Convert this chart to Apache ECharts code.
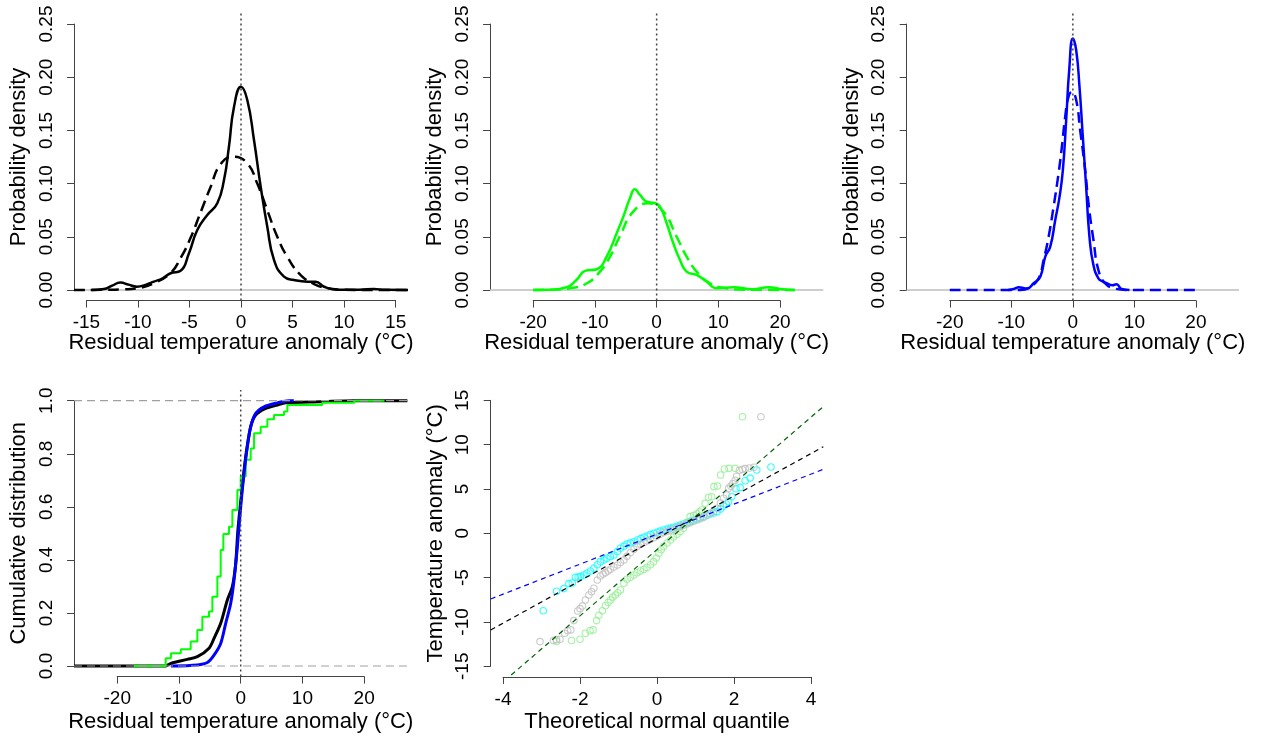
<!DOCTYPE html>
<html><head><meta charset="utf-8">
<script src="https://cdn.jsdelivr.net/npm/echarts@6/dist/echarts.min.js"></script>
<style>html,body{margin:0;padding:0;background:#fff}#c{width:1262px;height:740px}</style>
</head><body><div id="c"></div>
<script>
// ---------------- data ----------------
const xTitle = 'Residual temperature anomaly (°C)';
const qqXTitle = 'Theoretical normal quantile';
const densYTitle = 'Probability density';
const cdfYTitle = 'Cumulative distribution';
const qqYTitle = 'Temperature anomaly (°C)';

// tick ranges [min, max, step]
const ticksX1 = [-15, 15, 5];
const ticksX2 = [-20, 20, 10];
const ticksXq = [-4, 4, 2];
const ticksYdens = [0, 0.25, 0.05];
const ticksYcdf = [0, 1, 0.2];
const ticksYq = [-15, 15, 5];
// axis limits
const limX1 = [-15, 15];
const limX2 = [-25, 25];
const limXq = [-4, 4];
const limYdens = [0, 0.25];
const limYcdf = [0, 1];
const limYq = [-15, 15];

// panel 1 (black): kernel density (solid) and normal fit (dashed)
const blackKde = [[-14.5,0],[-13.3,0.0008],[-12.5,0.004],[-11.7,0.0069],[-10.9,0.005],[-10.1,0.0031],[-9.2,0.005],[-8.45,0.0078],[-7.6,0.011],[-6.83,0.0157],[-5.86,0.018],[-5.05,0.0345],[-4.24,0.0564],[-3.27,0.0705],[-2.3,0.0815],[-1.65,0.1034],[-1.17,0.1347],[-0.68,0.172],[0,0.191],[0.61,0.1786],[1.26,0.141],[1.91,0.097],[2.55,0.0595],[3.2,0.0282],[4.17,0.0125],[5.14,0.0094],[6.44,0.0078],[7.25,0.0078],[8.06,0.003],[9.35,0.0003],[11.5,0.0002],[12.9,0.001],[14,0.0001],[16.2,0]];
const blackNorm = [[-16.2,0],[-13,0.0002],[-11.5,0.0006],[-10.1,0.0016],[-8.45,0.0063],[-6.83,0.016],[-5.86,0.03],[-4.89,0.049],[-3.92,0.073],[-2.94,0.097],[-2.0,0.118],[-0.75,0.1253],[0.61,0.119],[1.58,0.1],[2.55,0.075],[3.52,0.05],[4.5,0.031],[5.79,0.014],[7.1,0.0056],[8.4,0.0016],[9.7,0.0003],[11,0],[16.2,0]];
// panel 2 (green)
const greenKde = [[-20,0],[-17.3,0.0002],[-14.6,0.0025],[-13.0,0.0094],[-11.6,0.0179],[-9.72,0.0195],[-8.1,0.0313],[-6.48,0.0533],[-5.4,0.0689],[-4.33,0.0862],[-3.52,0.0946],[-2.7,0.0893],[-1.62,0.083],[-0.27,0.0815],[0.54,0.0784],[1.62,0.0627],[2.7,0.0439],[3.78,0.0282],[4.86,0.0172],[6.48,0.0141],[8.1,0.0078],[9.72,0.0016],[12.4,0.0025],[15.6,0.0006],[18.1,0.0025],[20.5,0.0006],[22.4,0]];
const greenNorm = [[-20,0],[-17,0.0003],[-14.05,0.0016],[-11.3,0.0063],[-9.18,0.0172],[-7.56,0.0313],[-6.0,0.05],[-3.8,0.0736],[-1.35,0.0815],[1.08,0.0736],[3.24,0.05],[4.86,0.0313],[6.48,0.0172],[8.64,0.0063],[11.3,0.0016],[14,0.0003],[22.4,0]];
// panel 3 (blue)
const blueKde = [[-10.5,0],[-9.5,0.0012],[-8.8,0.0025],[-7.45,0.0013],[-6.37,0.0063],[-5.29,0.0125],[-4.48,0.0313],[-3.67,0.0407],[-2.86,0.0658],[-2.16,0.0877],[-1.62,0.1128],[-1.08,0.16],[-0.59,0.207],[0,0.2365],[0.54,0.2256],[1.08,0.191],[1.62,0.144],[2.16,0.097],[2.7,0.05],[3.34,0.0235],[4.15,0.011],[4.9,0.0078],[5.5,0.0063],[6.4,0.0045],[7.1,0.0053],[7.9,0.001],[9.2,0]];
const blueNorm = [[-20,0],[-8.5,0],[-6.9,0.003],[-5.56,0.011],[-4.75,0.0282],[-3.94,0.05],[-3.13,0.0783],[-2.32,0.1097],[-1.78,0.1347],[-1.24,0.163],[-0.7,0.1817],[-0.16,0.1864],[0.54,0.1786],[1.19,0.15],[2.0,0.1128],[2.54,0.0815],[3.35,0.047],[4.15,0.0188],[5.23,0.0063],[6.85,0.0013],[8.7,0],[20,0]];

// panel 4: empirical cumulative distributions
const blackEcdf = [[-27,0],[-12.15,0],[-11.3,0.01],[-8.64,0.025],[-7.02,0.035],[-5.13,0.067],[-4.32,0.104],[-3.24,0.161],[-2.16,0.249],[-1.35,0.299],[-0.81,0.387],[-0.45,0.513],[0.2,0.663],[0.81,0.789],[1.62,0.902],[2.43,0.946],[4.05,0.971],[5.94,0.984],[7.29,0.992],[12.96,0.996],[18.4,1],[27,1]];
const greenEcdf = [[-17.3,0],[-12.15,0.029],[-11.3,0.048],[-9.7,0.063],[-8.1,0.092],[-7.02,0.136],[-6.21,0.186],[-5.13,0.205],[-4.59,0.261],[-3.78,0.337],[-3.24,0.437],[-2.81,0.4975],[-1.89,0.525],[-1.35,0.588],[-0.54,0.663],[0,0.714],[0.81,0.777],[1.62,0.82],[2.16,0.877],[3.24,0.902],[4.32,0.93],[5.4,0.946],[7.02,0.959],[7.56,0.984],[13.2,0.992],[18.4,1],[23.3,1]];
const blueEcdf = [[-11.3,0],[-7.02,0.004],[-5.4,0.013],[-4.32,0.041],[-3.24,0.085],[-2.43,0.161],[-1.62,0.236],[-1.08,0.324],[-0.54,0.45],[0,0.6],[0.54,0.726],[1.08,0.827],[1.62,0.902],[2.43,0.952],[3.78,0.977],[5.94,0.992],[7.83,1],[8.6,1]];

// panel 5: normal Q-Q points [theoretical quantile, anomaly]
const qqBlack = [[-3.04,-12.22],[-2.69,-12.1],[-2.61,-12.0],[-2.52,-11.95],[-2.4,-11.28],[-2.32,-11.0],[-2.24,-10.9],[-2.16,-9.85],[-2.06,-8.76],[-2.0,-8.5],[-1.94,-8.2],[-1.86,-7.52],[-1.77,-6.96],[-1.7,-6.6],[-1.64,-6.2],[-1.55,-5.27],[-1.47,-4.81],[-1.4,-4.6],[-1.34,-4.44],[-1.27,-4.25],[-1.21,-4.06],[-1.12,-3.8],[-1.03,-3.57],[-0.95,-3.3],[-0.86,-3.0],[-0.78,-2.6],[-0.69,-2.18],[-0.6,-1.8],[-0.52,-1.5],[-0.43,-1.25],[-0.34,-1.05],[-0.26,-0.85],[-0.17,-0.68],[-0.08,-0.5],[0,-0.3],[0.08,-0.1],[0.17,0.08],[0.26,0.2],[0.35,0.33],[0.43,0.45],[0.52,0.6],[0.6,0.75],[0.69,0.9],[0.78,1.05],[0.86,1.2],[0.95,1.35],[1.04,1.5],[1.12,1.65],[1.21,1.8],[1.3,2.03],[1.38,2.26],[1.47,2.5],[1.56,2.82],[1.65,3.4],[1.73,3.95],[1.81,4.32],[1.86,5.07],[1.92,5.3],[1.97,5.6],[2.03,5.98],[2.07,6.43],[2.14,7.11],[2.22,7.2],[2.29,7.3],[2.4,7.37],[2.52,7.45],[2.70,13.15]];
const qqGreen = [[-2.61,-12.2],[-2.22,-12.1],[-2.0,-11.95],[-1.86,-11.28],[-1.74,-11.0],[-1.66,-10.9],[-1.57,-9.85],[-1.51,-9.25],[-1.42,-8.73],[-1.34,-8.17],[-1.27,-7.8],[-1.21,-7.52],[-1.15,-7.2],[-1.08,-6.96],[-1.02,-6.7],[-0.95,-6.4],[-0.86,-5.64],[-0.78,-5.19],[-0.69,-4.95],[-0.6,-4.7],[-0.52,-4.45],[-0.43,-4.25],[-0.34,-4.05],[-0.26,-3.87],[-0.17,-3.55],[-0.09,-3.2],[-0.02,-2.8],[0.05,-2.26],[0.11,-1.85],[0.17,-1.5],[0.26,-1.1],[0.35,-0.75],[0.43,-0.42],[0.52,-0.11],[0.6,0.2],[0.69,0.56],[0.78,1.2],[0.86,1.88],[0.95,2.0],[1.03,2.18],[1.1,2.4],[1.16,2.63],[1.25,3.38],[1.34,4.06],[1.42,4.13],[1.48,5.26],[1.57,5.33],[1.65,6.58],[1.75,7.25],[1.87,7.33],[2.03,7.33],[2.22,13.15]];
const qqBlue = [[-2.955,-8.73],[-2.61,-6.54],[-2.42,-6.24],[-2.29,-5.68],[-2.2,-5.6],[-2.12,-4.96],[-2.05,-4.93],[-1.99,-4.89],[-1.9,-4.7],[-1.82,-4.51],[-1.73,-4.25],[-1.64,-3.95],[-1.55,-3.55],[-1.47,-3.2],[-1.38,-3.0],[-1.3,-2.82],[-1.21,-2.62],[-1.12,-2.44],[-1.03,-2.05],[-0.95,-1.69],[-0.86,-1.45],[-0.78,-1.21],[-0.69,-1.08],[-0.6,-0.95],[-0.5,-0.75],[-0.42,-0.6],[-0.34,-0.45],[-0.25,-0.3],[-0.17,-0.15],[-0.08,0],[0,0.12],[0.08,0.25],[0.17,0.37],[0.26,0.47],[0.35,0.58],[0.43,0.68],[0.52,0.8],[0.6,0.92],[0.69,1.05],[0.78,1.2],[0.86,1.35],[0.95,1.5],[1.04,1.62],[1.12,1.75],[1.21,1.88],[1.3,2.03],[1.38,2.18],[1.47,2.3],[1.56,2.44],[1.65,2.75],[1.73,3.08],[1.8,3.3],[1.86,3.57],[1.94,4.13],[2.05,5.03],[2.16,5.18],[2.29,5.93],[2.42,6.23],[2.59,7.14],[2.96,7.48]];
// Q-Q reference lines [intercept, slope]
const qqLineBlack = [-0.57, 2.392];
const qqLineBlue = [-0.095, 1.693];
const qqLineGreen = [-1.84, 3.735];

// ---------------- layout & styling ----------------
const FONT = '"Liberation Sans", Arial, Helvetica, sans-serif';
const AXC = '#444';
const TICK_FS = 19, NAME_FS = 22;

const panels = [
  {box:[74,13.4,334,287.2], xlim:limX1, xt:ticksX1, ylim:limYdens, yt:ticksYdens, yd:2, xn:xTitle, yn:densYTitle, xgap:31},
  {box:[490,13.4,333.3,287.2], xlim:limX2, xt:ticksX2, ylim:limYdens, yt:ticksYdens, yd:2, xn:xTitle, yn:densYTitle, xgap:31},
  {box:[906.7,13.4,332.3,287.2], xlim:limX2, xt:ticksX2, ylim:limYdens, yt:ticksYdens, yd:2, xn:xTitle, yn:densYTitle, xgap:31},
  {box:[74,390.1,333.4,286.5], xlim:limX2, xt:ticksX2, ylim:limYcdf, yt:ticksYcdf, yd:1, xn:xTitle, yn:cdfYTitle, xgap:34},
  {box:[490.7,389.7,332.6,287.2], xlim:limXq, xt:ticksXq, ylim:limYq, yt:ticksYq, yd:0, xn:qqXTitle, yn:qqYTitle, xgap:34}
];

const grid = [], xAxis = [], yAxis = [], series = [];
const regions = [];
panels.forEach((p, i) => {
  const [l, t, w, h] = p.box;
  const xs = p.xlim[1] - p.xlim[0], ys = p.ylim[1] - p.ylim[0];
  const xr = [p.xlim[0] - 0.04 * xs, p.xlim[1] + 0.04 * xs];
  const yr = [p.ylim[0] - 0.04 * ys, p.ylim[1] + 0.04 * ys];
  regions.push({xr, yr});
  const px = v => l + (v - xr[0]) / (xr[1] - xr[0]) * w;
  const py = v => t + (yr[1] - v) / (yr[1] - yr[0]) * h;
  grid.push({left:l, top:t, width:w, height:h, outerBoundsMode:'none', containLabel:false});
  const al = px(p.xt[0]), ar = px(p.xt[1]), at = py(p.yt[1]), ab = py(p.yt[0]);
  grid.push({left:al, top:at, width:ar - al, height:ab - at, outerBoundsMode:'none', containLabel:false});
  xAxis.push({type:'value', gridIndex:2*i, min:xr[0], max:xr[1], show:false});
  yAxis.push({type:'value', gridIndex:2*i, min:yr[0], max:yr[1], show:false});
  xAxis.push({
    type:'value', gridIndex:2*i+1, min:p.xt[0], max:p.xt[1], interval:p.xt[2],
    position:'bottom', offset:(t + h) - ab,
    axisLine:{show:true, onZero:false, lineStyle:{color:AXC, width:1}},
    axisTick:{show:true, inside:false, length:7, lineStyle:{color:AXC, width:1}},
    axisLabel:{show:true, margin:13, fontSize:TICK_FS, color:'#000', fontFamily:FONT, showMinLabel:true, showMaxLabel:true,
      formatter: v => String(Math.round(v))},
    splitLine:{show:false},
    name:p.xn, nameLocation:'middle', nameGap:p.xgap, nameMoveOverlap:false,
    nameTextStyle:{fontSize:NAME_FS, color:'#000', fontFamily:FONT}
  });
  yAxis.push({
    type:'value', gridIndex:2*i+1, min:p.yt[0], max:p.yt[1], interval:p.yt[2],
    position:'left', offset:al - l,
    axisLine:{show:true, onZero:false, lineStyle:{color:AXC, width:1}},
    axisTick:{show:true, inside:false, length:7, lineStyle:{color:AXC, width:1}},
    axisLabel:{show:true, rotate:90, margin:18, fontSize:TICK_FS, color:'#000', fontFamily:FONT, showMinLabel:true, showMaxLabel:true,
      formatter: v => Number(v).toFixed(p.yd)},
    splitLine:{show:false},
    name:p.yn, nameLocation:'middle', nameGap:44, nameMoveOverlap:false,
    nameTextStyle:{fontSize:NAME_FS, color:'#000', fontFamily:FONT}
  });
});

function line(i, data, color, width, type, z, extra) {
  return Object.assign({
    type:'line', xAxisIndex:2*i, yAxisIndex:2*i, data, symbol:'none', showSymbol:false,
    lineStyle:{color, width, type}, z, silent:true, clip:true
  }, extra || {});
}
const SM = {smooth:0.5};
const DOT = {color:'#444', width:1.5, type:[2,3]};

const dens = [[blackKde, blackNorm, '#000000'], [greenKde, greenNorm, '#00ff00'], [blueKde, blueNorm, '#0000ff']];
dens.forEach(([kde, norm, col], i) => {
  const {xr, yr} = regions[i];
  series.push(line(i, [[xr[0],0],[xr[1],0]], '#bebebe', 1.5, 'solid', 1));
  series.push(line(i, norm, col, 2.5, [11,6], 2, SM));
  series.push(line(i, kde, col, 2.5, 'solid', 3, SM));
  series.push(line(i, [[0,yr[0]],[0,yr[1]]], DOT.color, DOT.width, DOT.type, 4));
});

{
  const i = 3, {xr, yr} = regions[3];
  series.push(line(i, blackEcdf, '#000000', 3, 'solid', 2, {smooth:0.3}));
  series.push(line(i, greenEcdf, '#00ff00', 2, 'solid', 3, {step:'end'}));
  series.push(line(i, blueEcdf, '#0000ff', 3, 'solid', 4, {smooth:0.3}));
  series.push(line(i, [[xr[0],0],[xr[1],0]], '#a0a0a0', 1.2, [8,5], 5));
  series.push(line(i, [[xr[0],1],[xr[1],1]], '#a0a0a0', 1.2, [8,5], 5));
  series.push(line(i, [[0,yr[0]],[0,yr[1]]], DOT.color, DOT.width, DOT.type, 6));
}

{
  const i = 4, {xr} = regions[4];
  const pts = (data, col, z) => ({
    type:'scatter', xAxisIndex:2*i, yAxisIndex:2*i, data, symbol:'circle', symbolSize:6.5,
    itemStyle:{color:'rgba(0,0,0,0)', borderColor:col, borderWidth:1.1}, z, silent:true
  });
  series.push(pts(qqBlue, '#00ffff', 2));
  series.push(pts(qqGreen, '#90ee90', 3));
  series.push(pts(qqBlack, '#bebebe', 4));
  const ref = ([a, b], col) => line(i, [[xr[0], a + b * xr[0]], [xr[1], a + b * xr[1]]], col, 1.2, [5,4], 6);
  series.push(ref(qqLineGreen, '#006400'));
  series.push(ref(qqLineBlack, '#000000'));
  series.push(ref(qqLineBlue, '#0000ff'));
}

const chart = echarts.init(document.getElementById('c'), null, {renderer:'canvas', width:1262, height:740});
chart.setOption({
  animation:false,
  backgroundColor:'#ffffff',
  textStyle:{fontFamily:FONT},
  grid, xAxis, yAxis, series
});
</script>
</body></html>
